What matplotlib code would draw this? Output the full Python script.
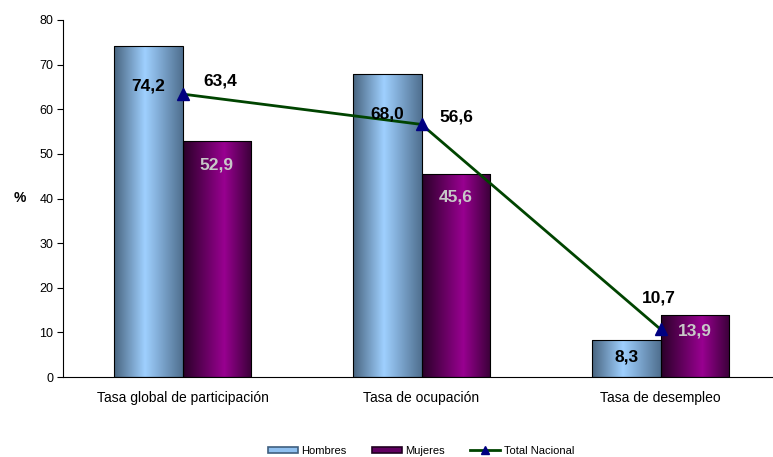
import numpy as np
import matplotlib
matplotlib.use("Agg")
import matplotlib.pyplot as plt
from matplotlib.colors import LinearSegmentedColormap
from matplotlib.patches import Patch
from matplotlib.lines import Line2D

plt.rcParams['font.family'] = ['Liberation Sans', 'DejaVu Sans']

categories = ["Tasa global de participación", "Tasa de ocupación", "Tasa de desempleo"]
hombres = [74.2, 68.0, 8.3]
mujeres = [52.9, 45.6, 13.9]
total = [63.4, 56.6, 10.7]
series_names = ["Hombres", "Mujeres", "Total Nacional"]

# label offsets in pixels (dx, dy) relative to bar top / marker
hombres_off = [(0, -40), (0, -40), (0, -17)]
mujeres_off = [(0, -24), (0, -23), (0, -16)]
total_off = [(38, 13), (35, 7), (-2, 31)]

fig = plt.figure(figsize=(7.73, 4.57), dpi=100)
ax = fig.add_axes([63 / 773, 1 - 377 / 457, 717 / 773, 357 / 457])

blue_cmap = LinearSegmentedColormap.from_list(
    "blue", [(0, "#48647f"), (0.45, "#9fd0ff"), (1, "#4f6f8f")])
purple_cmap = LinearSegmentedColormap.from_list(
    "purple", [(0, "#2a0028"), (0.6, "#980090"), (1, "#3a0038")])

x = np.arange(len(categories))
w = 0.288
grad = np.linspace(0, 1, 256).reshape(1, -1)


def grad_bars(xs, vals, cmap):
    bars = ax.bar(xs, vals, w, align='edge', facecolor='none',
                  edgecolor='black', linewidth=0.8, zorder=3)
    for b in bars:
        x0, y0 = b.get_x(), b.get_y()
        im = ax.imshow(grad, cmap=cmap, aspect='auto', zorder=2,
                       extent=[x0, x0 + b.get_width(), y0, y0 + b.get_height()])
        im.set_clip_path(b)
    return bars


hb = grad_bars(x - w, hombres, blue_cmap)
mb = grad_bars(x, mujeres, purple_cmap)

line_color = '#004400'
ax.plot(x, total, color=line_color, linewidth=2, marker='^',
        markersize=8, markerfacecolor='#000080', markeredgecolor='#000080', zorder=5)

fmt = lambda v: f"{v:.1f}".replace('.', ',')
for i in range(len(categories)):
    ax.annotate(fmt(hombres[i]), (x[i] - w / 2, hombres[i]), xytext=hombres_off[i],
                textcoords='offset pixels', ha='center', va='center',
                fontsize=12.5, fontweight='bold', color='black', zorder=6)
    ax.annotate(fmt(mujeres[i]), (x[i] + w / 2, mujeres[i]), xytext=mujeres_off[i],
                textcoords='offset pixels', ha='center', va='center',
                fontsize=12.5, fontweight='bold', color='#c8c8c8', zorder=6)
    ax.annotate(fmt(total[i]), (x[i], total[i]), xytext=total_off[i],
                textcoords='offset pixels', ha='center', va='center',
                fontsize=12.5, fontweight='bold', color='black', zorder=6)

ax.set_xlim(-0.5, 2.5)
ax.set_ylim(0, 80)
ax.set_yticks(range(0, 81, 10))
ax.set_xticks(x)
ax.set_xticklabels(categories, fontsize=10)
ax.tick_params(axis='x', length=0, pad=10)
ax.tick_params(axis='y', length=4, labelsize=9, pad=3)
ax.spines['top'].set_visible(False)
ax.spines['right'].set_visible(False)
ax.set_ylabel('%', rotation=0, fontsize=10, fontweight='bold', labelpad=14, va='center')

handles = [
    Patch(facecolor='#8fc0f0', edgecolor='#3f5f7f', linewidth=1.2),
    Patch(facecolor='#600060', edgecolor='#200020', linewidth=1.2),
    Line2D([0], [0], color=line_color, linewidth=2, marker='^',
           markersize=6, markerfacecolor='#000080', markeredgecolor='#000080'),
]
fig.legend(handles, series_names, loc='center', bbox_to_anchor=(421 / 773, 6 / 457),
           ncol=3, frameon=False, fontsize=8, handlelength=2.7, handleheight=0.5,
           columnspacing=2.3, handletextpad=0.3)

fig.savefig("out.png", dpi=100)
